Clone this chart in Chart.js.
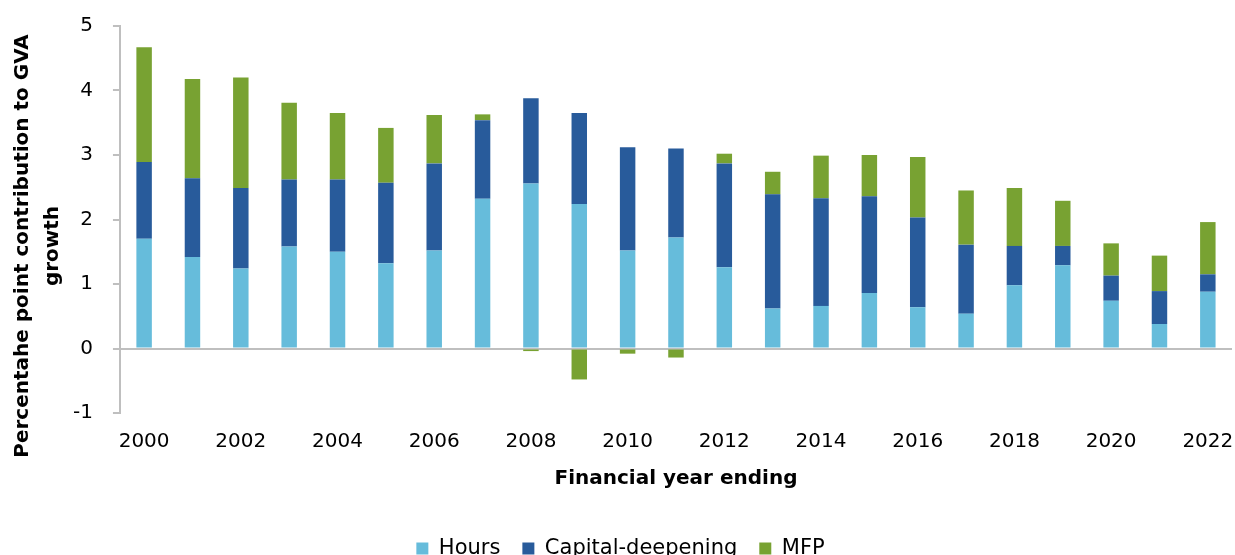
<!DOCTYPE html>
<html>
<head>
<meta charset="utf-8">
<script src="https://cdn.jsdelivr.net/npm/chart.js@4.4.1/dist/chart.umd.min.js"></script>
<style>
    html, body { margin: 0; padding: 0; background: #fff; overflow: hidden; }
    #wrap { width: 1235px; height: 555px; overflow: hidden; }
    #inner { width: 1235px; height: 569px; position: relative; }
</style>
</head>
<body>
<div id="wrap"><div id="inner"><canvas id="chart"></canvas></div></div>
<script>
const years = ['2000', '2001', '2002', '2003', '2004', '2005', '2006', '2007', '2008', '2009', '2010', '2011',
    '2012', '2013', '2014', '2015', '2016', '2017', '2018', '2019', '2020', '2021', '2022'];

const hours = [1.70, 1.42, 1.24, 1.58, 1.50, 1.32, 1.52, 2.32, 2.56, 2.24, 1.52, 1.72,
    1.26, 0.62, 0.66, 0.86, 0.64, 0.54, 0.98, 1.29, 0.74, 0.38, 0.88];

const capitalDeepening = [1.19, 1.22, 1.25, 1.04, 1.12, 1.25, 1.35, 1.22, 1.32, 1.41, 1.60, 1.38,
    1.61, 1.77, 1.67, 1.50, 1.39, 1.07, 0.61, 0.30, 0.39, 0.51, 0.27];

const mfp = [1.78, 1.54, 1.71, 1.19, 1.03, 0.85, 0.75, 0.09, -0.04, -0.48, -0.08, -0.14,
    0.15, 0.35, 0.66, 0.64, 0.94, 0.84, 0.90, 0.70, 0.50, 0.55, 0.81];

const yTitleLines = ['Percentahe point contribution to GVA', 'growth'];

const FONT = "'DejaVu Sans', sans-serif";
const AXIS_GREY = '#BFBFBF';

// y axis title drawn by hand so it can sit a little lower than the axis centre, like the original
const yTitlePlugin = {
    id: 'yTitle',
    afterDraw(chart) {
        const c = chart.ctx;
        c.save();
        c.fillStyle = '#000';
        c.font = "bold 20px " + FONT;
        c.textAlign = 'center';
        c.textBaseline = 'middle';
        yTitleLines.forEach((line, i) => {
            c.save();
            c.translate(23 + i * 30, 246);
            c.rotate(-Math.PI / 2);
            c.fillText(line, 0, 0);
            c.restore();
        });
        c.restore();
    },
};

const ctx = document.getElementById('chart').getContext('2d');
new Chart(ctx, {
    type: 'bar',
    data: {
        labels: years,
        datasets: [
            { label: 'Hours', data: hours, backgroundColor: '#66BCDB' },
            { label: 'Capital-deepening', data: capitalDeepening, backgroundColor: '#285B9B' },
            { label: 'MFP', data: mfp, backgroundColor: '#78A232' },
        ],
    },
    plugins: [yTitlePlugin],
    options: {
        responsive: true,
        maintainAspectRatio: false,
        animation: false,
        datasets: {
            bar: { barPercentage: 0.32, categoryPercentage: 1.0 },
        },
        layout: { padding: { top: 0, right: 3, left: 9, bottom: 0 } },
        plugins: {
            tooltip: { enabled: false },
            legend: {
                position: 'bottom',
                labels: {
                    font: { family: FONT, size: 21 },
                    color: '#000',
                    boxWidth: 12,
                    boxHeight: 12,
                    padding: 22,
                },
            },
        },
        scales: {
            x: {
                stacked: true,
                grid: {
                    display: true,
                    drawOnChartArea: false,
                    drawTicks: true,
                    tickLength: 17,
                    tickColor: 'rgba(0,0,0,0)',
                },
                border: { display: false },
                ticks: {
                    autoSkip: false,
                    maxRotation: 0,
                    color: '#000',
                    padding: 0,
                    font: { family: FONT, size: 20 },
                    callback: function (value, index) {
                        return index % 2 === 0 ? this.getLabelForValue(value) : '';
                    },
                },
                title: {
                    display: true,
                    text: 'Financial year ending',
                    color: '#000',
                    font: { family: FONT, size: 20, weight: 'bold' },
                    padding: { top: 13, bottom: 25 },
                },
            },
            y: {
                stacked: true,
                min: -1,
                max: 5,
                // room on the left for the hand-drawn title; top padding trimmed so "5" sits near the edge
                afterFit: (scale) => {
                    scale.width += 44;
                    scale.paddingTop = 26;
                    scale.paddingBottom = 12;
                },
                ticks: {
                    stepSize: 1,
                    color: '#000',
                    padding: 20,
                    font: { family: FONT, size: 20 },
                },
                grid: {
                    color: (c) => (c.tick && c.tick.value === 0 ? AXIS_GREY : 'rgba(0,0,0,0)'),
                    lineWidth: 2,
                    tickColor: AXIS_GREY,
                    tickLength: 7,
                },
                border: { color: AXIS_GREY, width: 2 },
            },
        },
    },
});
</script>
</body>
</html>
